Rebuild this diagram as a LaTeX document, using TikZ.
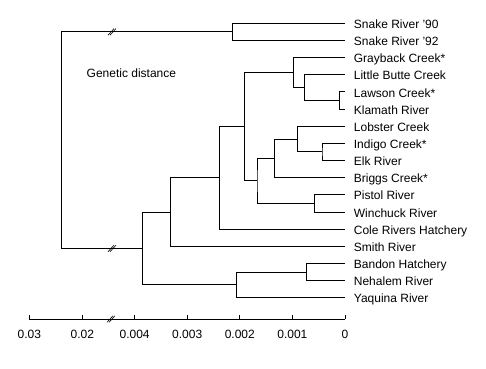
\documentclass[tikz,border=0pt]{standalone}
\usepackage{fontspec}
\setmainfont{Liberation Sans}

\tikzset{
    leaf/.style={anchor=west, inner xsep=8.7pt, inner ysep=0pt, text height=10.4pt, text depth=0pt},
    branch/.style={line width=0.9pt},
    brk/.pic={\draw[line width=0.6pt] (-4pt,-3.3pt) -- (2pt,3.3pt) (-2pt,-3.3pt) -- (4pt,3.3pt);}
}

\begin{document}
\begin{tikzpicture}[x=1pt, y=-17.15pt, font=\fontsize{12pt}{14pt}\selectfont]
    \useasboundingbox (0,-1.3586) rectangle (486,20.157);
    % populations, one per row
    \foreach \name/\lab [count=\i from 0] in {sr90/Snake River '90, sr92/Snake River '92,
        gbc/Grayback Creek*, lbc/Little Butte Creek, lwc/Lawson Creek*, klr/Klamath River,
        lsc/Lobster Creek, idc/Indigo Creek*, elk/Elk River, bgc/Briggs Creek*,
        psr/Pistol River, wcr/Winchuck River, crh/Cole Rivers Hatchery, smr/Smith River,
        bdh/Bandon Hatchery, nhr/Nehalem River, yqr/Yaquina River}
        \node[leaf] (\name) at (345,\i) {\lab};
    % joins
    \coordinate (nsnake) at (232.7,0.5);
    \coordinate (nlawkla) at (339.7,4.5);
    \coordinate (nbutte) at (304.3,3.75);
    \coordinate (ngray) at (293.3,2.875);
    \coordinate (nindelk) at (322,7.5);
    \coordinate (nlobster) at (297.5,6.75);
    \coordinate (nbriggs) at (274.5,7.875);
    \coordinate (npistwin) at (314.3,10.5);
    \coordinate (nsouth) at (257,9.1875);
    \coordinate (ninland) at (244.3,6.0313);
    \coordinate (ncole) at (219.3,9.0156);
    \coordinate (nsmith) at (170.3,11.0078);
    \coordinate (nbannehal) at (306.7,14.5);
    \coordinate (nyaq) at (236.5,15.25);
    \coordinate (ncoast) at (142.3,13.1289);
    \coordinate (nroot) at (61.3,6.8145);
    \draw[branch] (sr90.west) -| (nsnake) |- (sr92.west);
    \draw[branch] (lwc.west) -| (nlawkla) |- (klr.west);
    \draw[branch] (lbc.west) -| (nbutte) |- (nlawkla);
    \draw[branch] (gbc.west) -| (ngray) |- (nbutte);
    \draw[branch] (idc.west) -| (nindelk) |- (elk.west);
    \draw[branch] (lsc.west) -| (nlobster) |- (nindelk);
    \draw[branch] (nlobster) -| (nbriggs) |- (bgc.west);
    \draw[branch] (psr.west) -| (npistwin) |- (wcr.west);
    \draw[branch] (nbriggs) -| (nsouth) |- (npistwin);
    \draw[branch] (ngray) -| (ninland) |- (nsouth);
    \draw[branch] (ninland) -| (ncole) |- (crh.west);
    \draw[branch] (ncole) -| (nsmith) |- (smr.west);
    \draw[branch] (bdh.west) -| (nbannehal) |- (nhr.west);
    \draw[branch] (nbannehal) -| (nyaq) |- (yqr.west);
    \draw[branch] (nsmith) -| (ncoast) |- (nyaq);
    \draw[branch] (nsnake) -| (nroot) |- (ncoast);
    \pic at (112,0 |- nsnake) {brk};
    \pic at (112,0 |- ncoast) {brk};
    \node[anchor=west, inner sep=0pt] (gd) at (86.5,2.915) {Genetic distance};
    % scale
    \draw[branch] (29.3,17.242) coordinate (ax0) -- (345,17.242) coordinate (ax1);
    \foreach \x/\t [count=\k] in {29.3/0.03, 82.3/0.02, 134.6/0.004, 187.2/0.003,
        239.8/0.002, 292.4/0.001, 345/0} {
        \draw[branch] (\x,17.242) -- ++(0pt,4pt);
        \node (tick\k) at (\x,18.117) {\t};
    }
    \pic at (111,17.242) {brk};
\end{tikzpicture}
\end{document}
